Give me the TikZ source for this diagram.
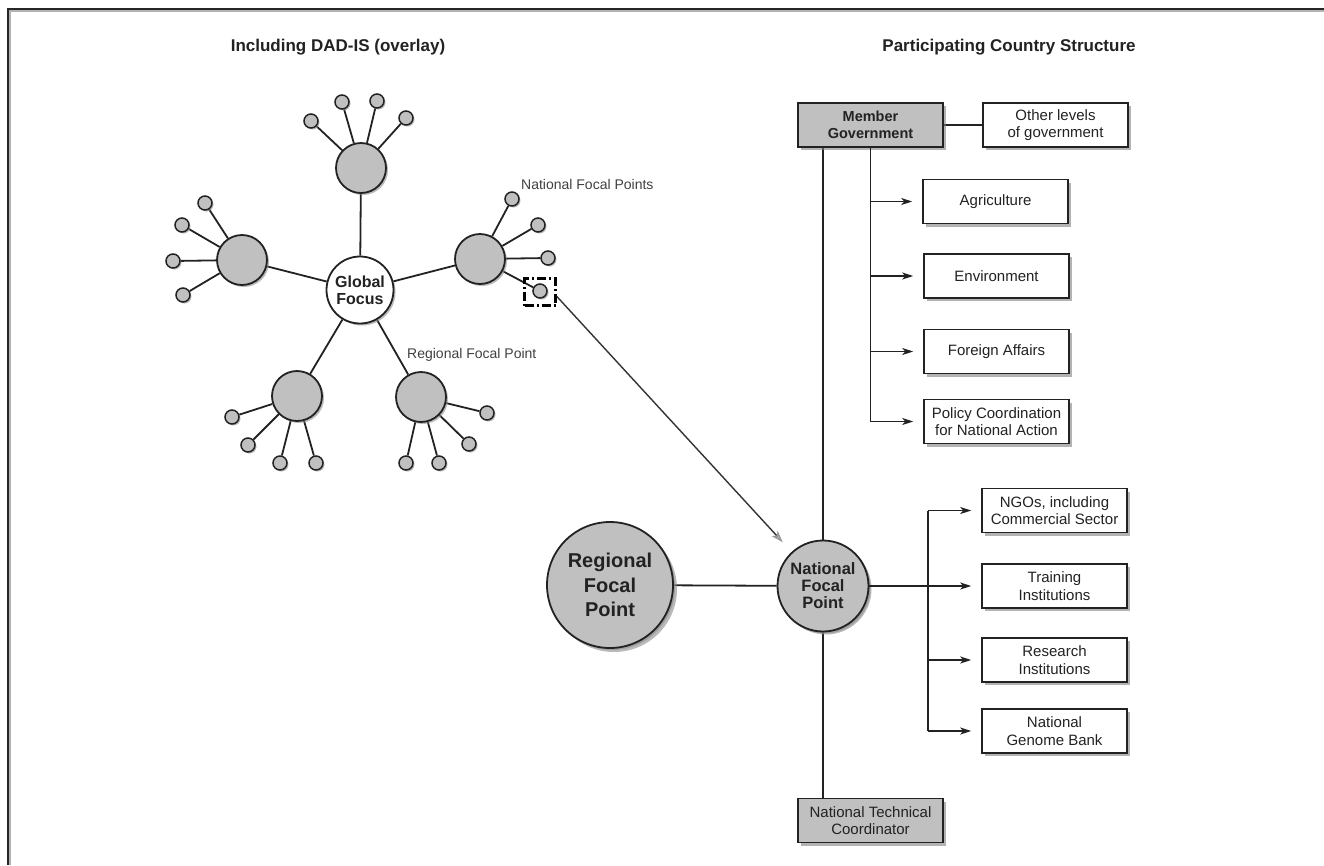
\documentclass[tikz,border=0pt]{standalone}
\usepackage{fontspec}
\setmainfont{Liberation Sans}
\usetikzlibrary{shadows,arrows.meta,backgrounds}
\definecolor{hubgray}{HTML}{C0C0C0}
\definecolor{ink}{HTML}{222222}
\begin{document}
\begin{tikzpicture}[x=1pt,y=-1pt,
  hub/.style={circle, draw=ink, line width=1.8pt, fill=hubgray, minimum size=50pt, inner sep=0pt,
    drop shadow={shadow xshift=2pt, shadow yshift=-2pt, fill=black!45, opacity=0.6}},
  sat/.style={circle, draw=ink, line width=1.5pt, fill=hubgray, minimum size=14pt, inner sep=0pt,
    drop shadow={shadow xshift=1.5pt, shadow yshift=-1.5pt, fill=black!45, opacity=0.6}},
  link/.style={draw=ink, line width=1.8pt},
  box/.style={rectangle, draw=ink, line width=1.6pt, fill=white, minimum width=145pt, minimum height=44pt,
    inner sep=2pt, align=center, font=\fontsize{15}{17.5}\selectfont, text=ink,
    drop shadow={shadow xshift=3pt, shadow yshift=-3pt, fill=black!50, opacity=0.6}},
  graybox/.style={box, fill=hubgray},
  arr/.style={draw=ink, line width=1.6pt, -{Stealth[length=11pt,width=7pt,inset=3pt]}, shorten >=10pt},
  ttl/.style={font=\fontsize{17}{20}\selectfont\bfseries, text=ink},
  lbl/.style={font=\fontsize{14}{17}\selectfont, text=black!75, anchor=west, inner sep=0pt},
  dashbox/.style={draw=black, line width=2.8pt, dash pattern=on 9pt off 3pt on 2pt off 3pt, minimum width=31pt, minimum height=27pt, inner sep=0pt}
]
\useasboundingbox (0,0) rectangle (1324,865);
% frame
\draw[line width=1.2pt, black!30] (10,865) -- (10,11) -- (1324,11);
\draw[line width=2.4pt, black!85] (8,865) -- (8,9) -- (1324,9);

% titles
\node[ttl] (t1) at (338,47) {Including DAD-IS (overlay)};
\node[ttl] (t2) at (1009,47) {Participating Country Structure};

% overlay star
\node[hub, fill=white, minimum size=67pt, align=center, font=\fontsize{16}{17}\selectfont\bfseries, text=ink] (gf) at (360,290) {Global\\Focus};
\node[hub] (rt) at (361,168) {};
\node[hub] (rl) at (242,260) {};
\node[hub] (rr) at (480,259) {};
\node[hub] (rbl) at (297,396) {};
\node[hub] (rbr) at (421,397) {};

\foreach \n/\p in {rt1/{(311,121)}, rt2/{(342,102)}, rt3/{(377,101)}, rt4/{(406,118)},
                   rl1/{(205,203)}, rl2/{(182,225)}, rl3/{(173,261)}, rl4/{(183,295)},
                   rr1/{(512,199)}, rr2/{(538,225)}, rr3/{(548,258)}, rr4/{(540,291)},
                   rbl1/{(232,417)}, rbl2/{(248,445)}, rbl3/{(280,463)}, rbl4/{(316,463)},
                   rbr1/{(487,413)}, rbr2/{(469,444)}, rbr3/{(439,463)}, rbr4/{(406,463)}}
  \node[sat] (\n) at \p {};

\node[dashbox] (sel) at (540,292) {};

\node[lbl] (lnfp) at (521,184) {National Focal Points};
\node[lbl] (lrfp) at (407,355) {Regional Focal Point};

% big circles
\node[hub, minimum size=126pt, align=center, font=\fontsize{20}{24.5}\selectfont\bfseries, text=ink,
  drop shadow={shadow xshift=4pt, shadow yshift=-4pt, fill=black!45, opacity=0.6}] (rfp) at (610,585) {Regional\\Focal\\Point};
\node[hub, minimum size=91pt, align=center, font=\fontsize{16.5}{17}\selectfont\bfseries, text=ink,
  drop shadow={shadow xshift=3pt, shadow yshift=-3pt, fill=black!45, opacity=0.6}] (nfp) at (823,586) {National\\Focal\\Point};

% boxes
\node[graybox, font=\fontsize{14.5}{17.5}\selectfont\bfseries] (mg) at (870.5,125) {Member\\Government};
\node[box] (ol) at (1055.5,125) {Other levels\\of government};
\node[box] (agri) at (995.5,201.5) {Agriculture};
\node[box] (env) at (996.5,276) {Environment};
\node[box] (fa) at (996.5,351.5) {Foreign Affairs};
\node[box] (pc) at (996.5,421.5) {Policy Coordination\\for National Action};
\node[box] (ngo) at (1054.5,510.5) {NGOs, including\\Commercial Sector};
\node[box] (tr) at (1054.5,586) {Training\\Institutions};
\node[box] (res) at (1054.5,660) {Research\\Institutions};
\node[box] (ngb) at (1054.5,731) {National\\Genome Bank};
\node[graybox] (ntc) at (870.5,820.5) {National Technical\\Coordinator};

\coordinate (ib) at (928,586);

\begin{pgfonlayer}{background}
\foreach \h in {rt,rl,rr,rbl,rbr} {
  \draw[link] (gf) -- (\h);
  \foreach \k in {1,2,3,4} \draw[link] (\h) -- (\h\k);
}
\draw[link] (rfp) -- (nfp);
\draw[link] (nfp |- mg.south) -- (nfp);
\draw[link] (nfp) -- (nfp |- ntc.north);
\draw[link] (mg) -- (ol);
\end{pgfonlayer}

% selection arrow
\draw[draw=black!80, line width=1.4pt, shorten >=13pt,
  -{Stealth[length=12pt,width=8pt,inset=3pt,fill=black!30,color=black!40]}] (sel.-15) -- (nfp);

% government branch
\draw[link] (mg.south) -- (mg.south |- pc.west);
\foreach \b in {agri,env,fa,pc}
  \draw[arr] (mg.south |- \b.west) -- (\b.west);

% institution branch
\draw[arr] (nfp.east) -- (tr.west);
\draw[link] (ib |- ngo.west) -- (ib |- ngb.west);
\foreach \b in {ngo,res,ngb}
  \draw[arr] (ib |- \b.west) -- (\b.west);
\end{tikzpicture}
\end{document}
